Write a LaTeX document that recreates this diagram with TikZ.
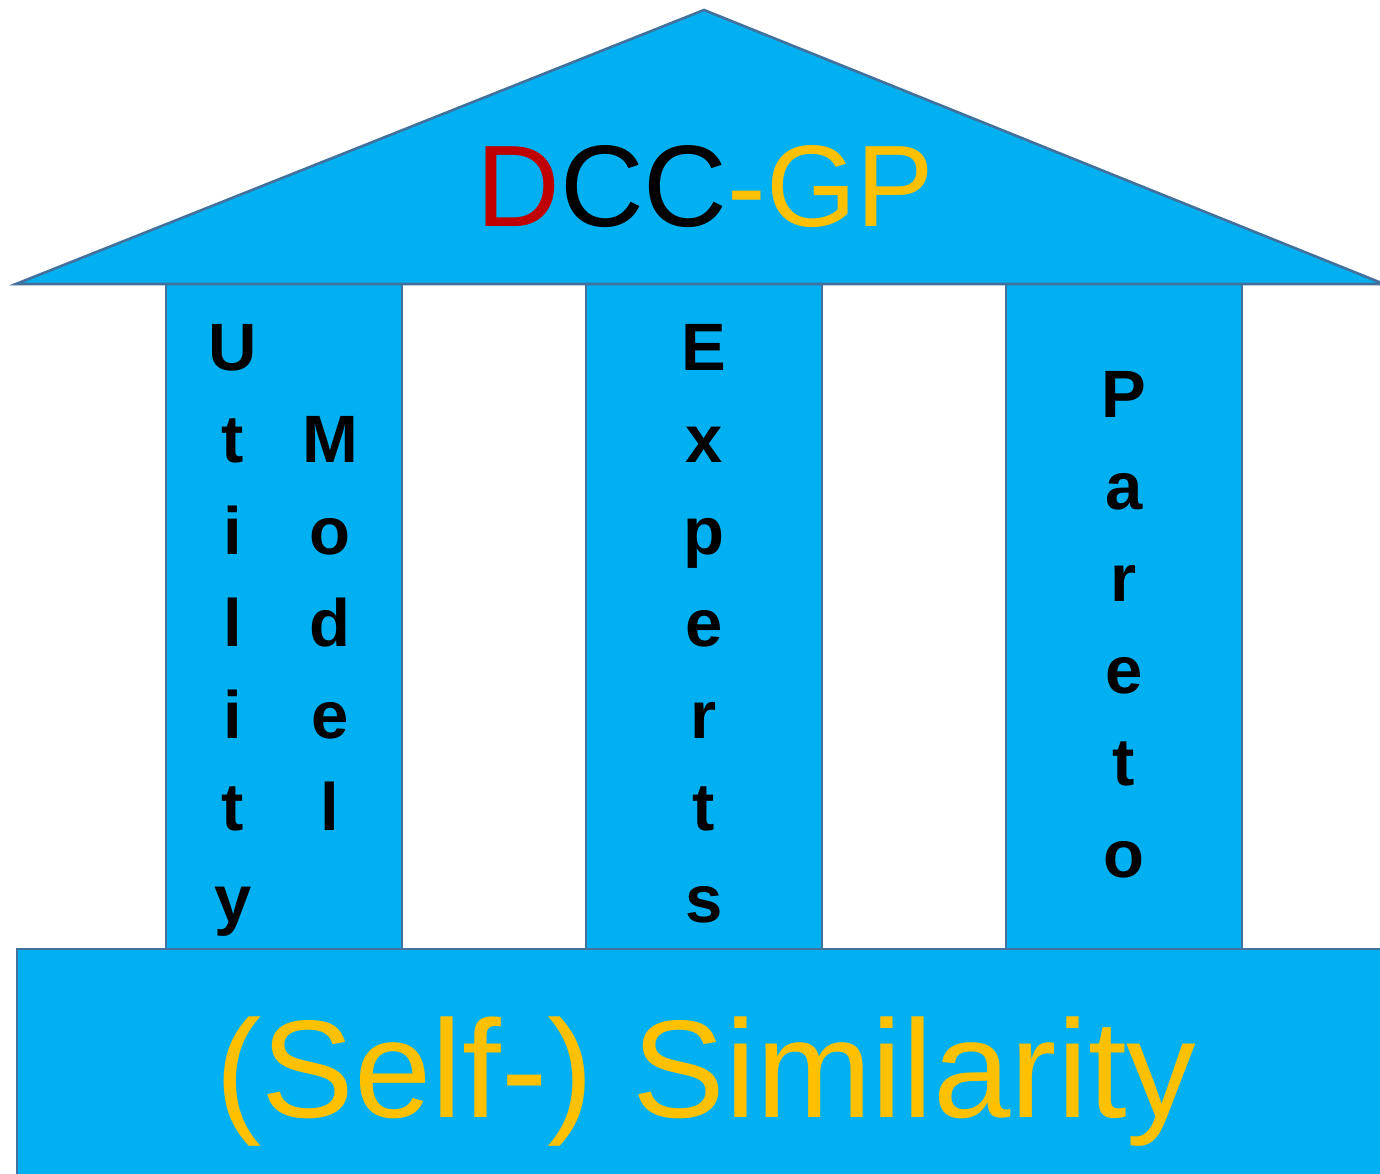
\documentclass[tikz,border=0pt]{standalone}
\usepackage{fontspec}
\setmainfont{Liberation Sans}
\definecolor{skyfill}{HTML}{00B0F0}
\definecolor{edgeblue}{HTML}{41719C}
\definecolor{deepred}{HTML}{C00000}
\definecolor{gold}{HTML}{FFC000}
\tikzset{
  part/.style={fill=skyfill, draw=edgeblue, line width=2.6pt, line join=miter},
  letter/.style={anchor=base, inner sep=0pt, font=\fontsize{67}{80}\selectfont\bfseries, text=black},
}
\begin{document}
\begin{tikzpicture}[x=1pt, y=-1pt]
  \useasboundingbox (0,0) rectangle (1380,1174);
  \clip (0,0) rectangle (1380,1174);
  % pillars
  \draw[part] (166,284) rectangle (402,949);
  \draw[part] (586,284) rectangle (822,949);
  \draw[part] (1006,284) rectangle (1242,949);
  % roof
  \draw[part] (16,284) -- (704,10) -- (1384,284) -- cycle;
  \node[inner sep=0pt, anchor=base, font=\fontsize{116}{130}\selectfont] (title) at (705,227)
    {\textcolor{deepred}{D}CC\textcolor{gold}{-GP}};
  % foundation
  \draw[part] (17,949) rectangle (1400,1200);
  \node[inner sep=0pt, anchor=base, text=gold, font=\fontsize{139}{150}\selectfont] (base) at (706,1117)
    {(Self-) Similarity};
  % pillar lettering
  \foreach \ch [count=\k from 0] in {U,t,i,l,i,t,y}
    \node[letter] (util\k) at (233,370+92*\k) {\ch};
  \foreach \ch [count=\k from 0] in {M,o,d,e,l}
    \node[letter] (model\k) at (330,462+92*\k) {\ch};
  \foreach \ch [count=\k from 0] in {E,x,p,e,r,t,s}
    \node[letter] (exp\k) at (704,370+92*\k) {\ch};
  \foreach \ch [count=\k from 0] in {P,a,r,e,t,o}
    \node[letter] (par\k) at (1124,417+92*\k) {\ch};
\end{tikzpicture}
\end{document}
